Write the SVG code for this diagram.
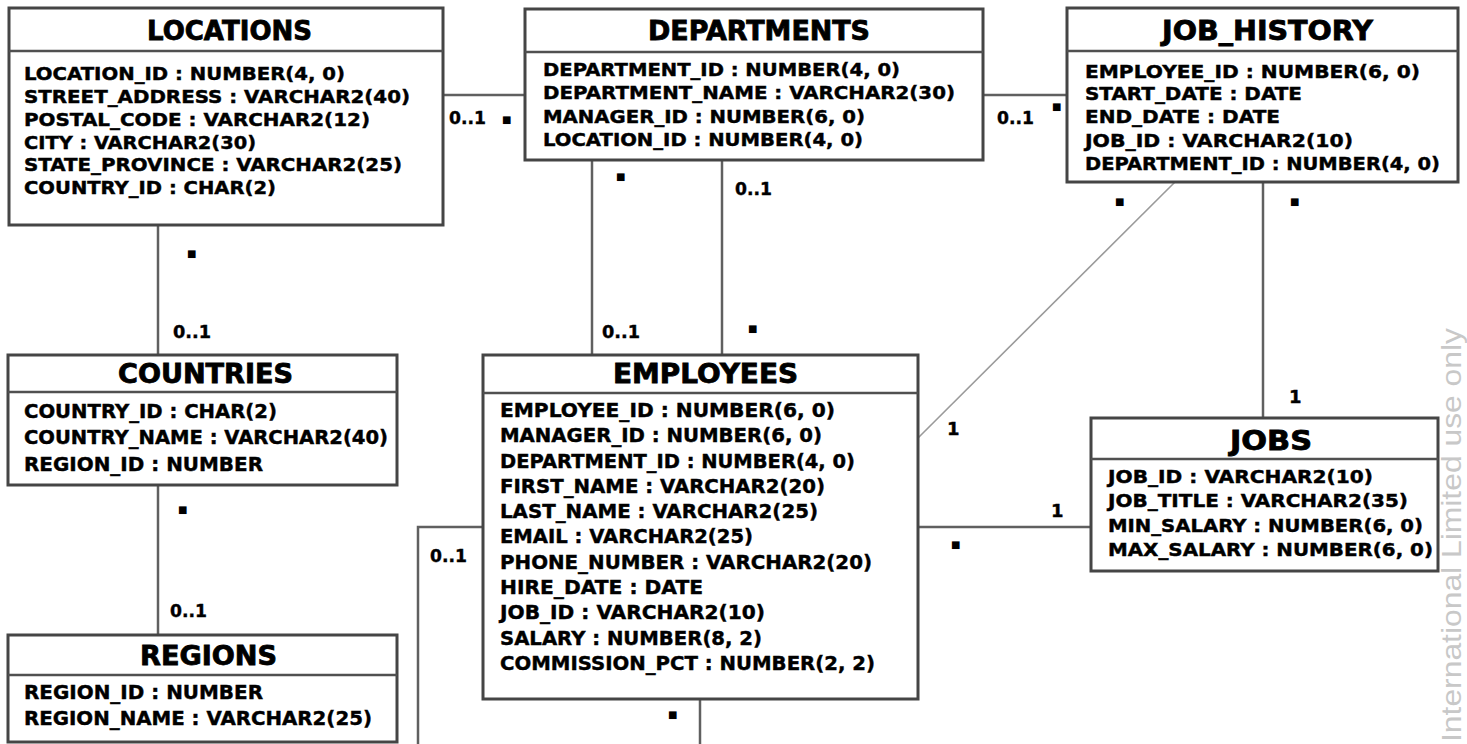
<svg xmlns="http://www.w3.org/2000/svg" width="1467" height="744" viewBox="0 0 1467 744">
<style>
.box{fill:#fff;stroke:#454545;stroke-width:3}
.sep{stroke:#505050;stroke-width:2.5}
.title{font-family:"DejaVu Sans","Liberation Sans",sans-serif;font-weight:bold;font-size:26px;fill:#000;stroke:#000;stroke-width:0.8}
.row{font-family:"DejaVu Sans","Liberation Sans",sans-serif;font-weight:bold;font-size:18.5px;fill:#000;stroke:#000;stroke-width:0.45}
.rowb{font-family:"DejaVu Sans","Liberation Sans",sans-serif;font-weight:bold;font-size:20px;fill:#000;stroke:#000;stroke-width:0.45}
.lbl{font-family:"DejaVu Sans","Liberation Sans",sans-serif;font-weight:bold;font-size:18px;fill:#000;stroke:#000;stroke-width:0.4}
.star{font-family:"DejaVu Sans",sans-serif;font-size:10px;fill:#000}
.conn{stroke:#606060;stroke-width:2.5;fill:none}
.diag{stroke:#9a9a9a;stroke-width:1.6;fill:none}
.wm{font-family:"Liberation Sans",Arial,sans-serif;font-size:28px;fill:#c8c8c8}
</style>
<rect width="1467" height="744" fill="#fff"/>
<g id="connectors">
<line class="conn" x1="443" y1="95" x2="525" y2="95"/>
<line class="conn" x1="983" y1="95" x2="1067" y2="95"/>
<line class="conn" x1="158" y1="225" x2="158" y2="355"/>
<line class="conn" x1="158" y1="485" x2="158" y2="635"/>
<line class="conn" x1="592" y1="160" x2="592" y2="355"/>
<line class="conn" x1="722" y1="160" x2="722" y2="355"/>
<line class="diag" x1="1175" y1="182" x2="918" y2="438"/>
<line class="conn" x1="1263" y1="182" x2="1263" y2="418"/>
<line class="conn" x1="918" y1="527" x2="1091" y2="527"/>
<polyline class="conn" points="483,527 418,527 418,750"/>
<line class="conn" x1="700" y1="699" x2="700" y2="750"/>
<text class="lbl" x="449" y="124" textLength="37" lengthAdjust="spacingAndGlyphs">0..1</text>
<text class="star" x="502" y="123">■</text>
<text class="lbl" x="997" y="124" textLength="37" lengthAdjust="spacingAndGlyphs">0..1</text>
<text class="star" x="1052" y="110">■</text>
<text class="star" x="187" y="257">■</text>
<text class="lbl" x="173" y="338" textLength="38" lengthAdjust="spacingAndGlyphs">0..1</text>
<text class="star" x="616" y="180">■</text>
<text class="lbl" x="602" y="338" textLength="38" lengthAdjust="spacingAndGlyphs">0..1</text>
<text class="lbl" x="735" y="195" textLength="37" lengthAdjust="spacingAndGlyphs">0..1</text>
<text class="star" x="748" y="332">■</text>
<text class="star" x="178" y="513">■</text>
<text class="lbl" x="170" y="617" textLength="37" lengthAdjust="spacingAndGlyphs">0..1</text>
<text class="lbl" x="430" y="562" textLength="37" lengthAdjust="spacingAndGlyphs">0..1</text>
<text class="star" x="668" y="718">■</text>
<text class="star" x="1115" y="205">■</text>
<text class="lbl" x="947" y="435">1</text>
<text class="star" x="1290" y="205">■</text>
<text class="lbl" x="1289" y="403">1</text>
<text class="lbl" x="1051" y="517">1</text>
<text class="star" x="951" y="548">■</text>
</g>
<g id="locations">
<rect class="box" x="9" y="8" width="434" height="217"/>
<line class="sep" x1="9" y1="51" x2="443" y2="51"/>
<text class="title" x="147" y="40" textLength="165" lengthAdjust="spacingAndGlyphs">LOCATIONS</text>
<text class="row" x="24" y="80" textLength="321" lengthAdjust="spacingAndGlyphs">LOCATION_ID : NUMBER(4, 0)</text>
<text class="row" x="24" y="103" textLength="386" lengthAdjust="spacingAndGlyphs">STREET_ADDRESS : VARCHAR2(40)</text>
<text class="row" x="24" y="126" textLength="346" lengthAdjust="spacingAndGlyphs">POSTAL_CODE : VARCHAR2(12)</text>
<text class="row" x="24" y="149" textLength="232" lengthAdjust="spacingAndGlyphs">CITY : VARCHAR2(30)</text>
<text class="row" x="24" y="171" textLength="378" lengthAdjust="spacingAndGlyphs">STATE_PROVINCE : VARCHAR2(25)</text>
<text class="row" x="24" y="194" textLength="252" lengthAdjust="spacingAndGlyphs">COUNTRY_ID : CHAR(2)</text>
</g>
<g id="departments">
<rect class="box" x="525" y="9" width="458" height="151"/>
<line class="sep" x1="525" y1="52" x2="983" y2="52"/>
<text class="title" x="648" y="40" textLength="222" lengthAdjust="spacingAndGlyphs">DEPARTMENTS</text>
<text class="row" x="543" y="76" textLength="357" lengthAdjust="spacingAndGlyphs">DEPARTMENT_ID : NUMBER(4, 0)</text>
<text class="row" x="543" y="99" textLength="412" lengthAdjust="spacingAndGlyphs">DEPARTMENT_NAME : VARCHAR2(30)</text>
<text class="row" x="543" y="123" textLength="322" lengthAdjust="spacingAndGlyphs">MANAGER_ID : NUMBER(6, 0)</text>
<text class="row" x="543" y="146" textLength="320" lengthAdjust="spacingAndGlyphs">LOCATION_ID : NUMBER(4, 0)</text>
</g>
<g id="job_history">
<rect class="box" x="1067" y="8" width="391" height="174"/>
<line class="sep" x1="1067" y1="51" x2="1458" y2="51"/>
<text class="title" x="1162" y="40" textLength="211" lengthAdjust="spacingAndGlyphs">JOB_HISTORY</text>
<text class="row" x="1085" y="78" textLength="335" lengthAdjust="spacingAndGlyphs">EMPLOYEE_ID : NUMBER(6, 0)</text>
<text class="row" x="1085" y="100" textLength="217" lengthAdjust="spacingAndGlyphs">START_DATE : DATE</text>
<text class="row" x="1085" y="123" textLength="195" lengthAdjust="spacingAndGlyphs">END_DATE : DATE</text>
<text class="row" x="1085" y="147" textLength="268" lengthAdjust="spacingAndGlyphs">JOB_ID : VARCHAR2(10)</text>
<text class="row" x="1085" y="170" textLength="355" lengthAdjust="spacingAndGlyphs">DEPARTMENT_ID : NUMBER(4, 0)</text>
</g>
<g id="countries">
<rect class="box" x="8" y="355" width="389" height="130"/>
<line class="sep" x1="8" y1="392" x2="397" y2="392"/>
<text class="title" x="118" y="383" textLength="175" lengthAdjust="spacingAndGlyphs">COUNTRIES</text>
<text class="rowb" x="24" y="418" textLength="253" lengthAdjust="spacingAndGlyphs">COUNTRY_ID : CHAR(2)</text>
<text class="rowb" x="24" y="444" textLength="364" lengthAdjust="spacingAndGlyphs">COUNTRY_NAME : VARCHAR2(40)</text>
<text class="rowb" x="24" y="471" textLength="239" lengthAdjust="spacingAndGlyphs">REGION_ID : NUMBER</text>
</g>
<g id="regions">
<rect class="box" x="8" y="635" width="389" height="107"/>
<line class="sep" x1="8" y1="675" x2="397" y2="675"/>
<text class="title" x="140" y="665" textLength="137" lengthAdjust="spacingAndGlyphs">REGIONS</text>
<text class="rowb" x="24" y="699" textLength="239" lengthAdjust="spacingAndGlyphs">REGION_ID : NUMBER</text>
<text class="rowb" x="24" y="725" textLength="348" lengthAdjust="spacingAndGlyphs">REGION_NAME : VARCHAR2(25)</text>
</g>
<g id="employees">
<rect class="box" x="483" y="355" width="435" height="344"/>
<line class="sep" x1="483" y1="393" x2="918" y2="393"/>
<text class="title" x="613" y="383" textLength="185" lengthAdjust="spacingAndGlyphs">EMPLOYEES</text>
<text class="rowb" x="500" y="417" textLength="335" lengthAdjust="spacingAndGlyphs">EMPLOYEE_ID : NUMBER(6, 0)</text>
<text class="rowb" x="500" y="442" textLength="322" lengthAdjust="spacingAndGlyphs">MANAGER_ID : NUMBER(6, 0)</text>
<text class="rowb" x="500" y="468" textLength="355" lengthAdjust="spacingAndGlyphs">DEPARTMENT_ID : NUMBER(4, 0)</text>
<text class="rowb" x="500" y="493" textLength="325" lengthAdjust="spacingAndGlyphs">FIRST_NAME : VARCHAR2(20)</text>
<text class="rowb" x="500" y="518" textLength="318" lengthAdjust="spacingAndGlyphs">LAST_NAME : VARCHAR2(25)</text>
<text class="rowb" x="500" y="543" textLength="253" lengthAdjust="spacingAndGlyphs">EMAIL : VARCHAR2(25)</text>
<text class="rowb" x="500" y="569" textLength="372" lengthAdjust="spacingAndGlyphs">PHONE_NUMBER : VARCHAR2(20)</text>
<text class="rowb" x="500" y="594" textLength="203" lengthAdjust="spacingAndGlyphs">HIRE_DATE : DATE</text>
<text class="rowb" x="500" y="619" textLength="265" lengthAdjust="spacingAndGlyphs">JOB_ID : VARCHAR2(10)</text>
<text class="rowb" x="500" y="645" textLength="262" lengthAdjust="spacingAndGlyphs">SALARY : NUMBER(8, 2)</text>
<text class="rowb" x="500" y="670" textLength="375" lengthAdjust="spacingAndGlyphs">COMMISSION_PCT : NUMBER(2, 2)</text>
</g>
<g id="jobs">
<rect class="box" x="1091" y="418" width="347" height="153"/>
<line class="sep" x1="1091" y1="459" x2="1438" y2="459"/>
<text class="title" x="1230" y="450" textLength="82" lengthAdjust="spacingAndGlyphs">JOBS</text>
<text class="row" x="1108" y="483" textLength="265" lengthAdjust="spacingAndGlyphs">JOB_ID : VARCHAR2(10)</text>
<text class="row" x="1108" y="507" textLength="300" lengthAdjust="spacingAndGlyphs">JOB_TITLE : VARCHAR2(35)</text>
<text class="row" x="1108" y="532" textLength="315" lengthAdjust="spacingAndGlyphs">MIN_SALARY : NUMBER(6, 0)</text>
<text class="row" x="1108" y="556" textLength="325" lengthAdjust="spacingAndGlyphs">MAX_SALARY : NUMBER(6, 0)</text>
</g>
<text class="wm" transform="translate(1461,742) rotate(-90)" textLength="414" lengthAdjust="spacingAndGlyphs">International Limited use only</text>
</svg>
